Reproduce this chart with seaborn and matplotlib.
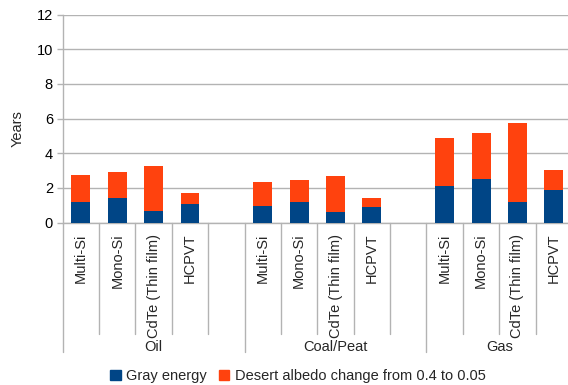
import matplotlib
matplotlib.use("Agg")
import matplotlib.pyplot as plt
from matplotlib.patches import Patch
import seaborn as sns
import pandas as pd

groups = ["Oil", "Coal/Peat", "Gas"]
technologies = ["Multi-Si", "Mono-Si", "CdTe (Thin film)", "HCPVT"]
gray_energy = [1.21, 1.42, 0.67, 1.04,
               0.96, 1.21, 0.58, 0.87,
               2.13, 2.52, 1.21, 1.90]
albedo_change = [1.56, 1.50, 2.62, 0.69,
                 1.35, 1.25, 2.13, 0.55,
                 2.77, 2.62, 4.54, 1.14]
y_ticks = [0, 2, 4, 6, 8, 10, 12]
series_names = ["Gray energy", "Desert albedo change from 0.4 to 0.05"]

BLUE = "#004586"
ORANGE = "#ff420e"
GRID = "#b3b3b3"
FS = 10.5

rows = []
for gi, g in enumerate(groups):
    for ti, t in enumerate(technologies):
        k = gi * len(technologies) + ti
        rows.append({"slot": f"{g}|{t}", "tech": t, "group": g,
                     "gray": gray_energy[k],
                     "total": gray_energy[k] + albedo_change[k]})
df = pd.DataFrame(rows)

order = []
for gi, g in enumerate(groups):
    order += [f"{g}|{t}" for t in technologies]
    if gi < len(groups) - 1:
        order.append(f"gap{gi}")

sns.set_style("white")
plt.rcParams["font.family"] = ["Liberation Sans", "DejaVu Sans"]

fig = plt.figure(figsize=(5.68, 3.85), dpi=100)
W, H = 568, 385
x0, x1, ytop, ybot = 62.7, 572.0, 14.7, 222.5
ax = fig.add_axes([x0 / W, 1 - ybot / H, (x1 - x0) / W, (ybot - ytop) / H])

sns.barplot(data=df, x="slot", y="total", order=order, color=ORANGE,
            width=0.52, saturation=1, errorbar=None, ax=ax, zorder=3,
            linewidth=0)
sns.barplot(data=df, x="slot", y="gray", order=order, color=BLUE,
            width=0.52, saturation=1, errorbar=None, ax=ax, zorder=4,
            linewidth=0)

ax.set_ylim(0, 12)
ax.set_xlim(-0.5, len(order) - 0.5)
ax.set_yticks(y_ticks)
ax.set_yticklabels([str(v) for v in y_ticks], fontsize=FS, color="black")
ax.yaxis.grid(True, color=GRID, linewidth=1.0, zorder=0)
ax.set_axisbelow(True)
ax.tick_params(axis="y", length=4.5, width=1.0, color=GRID, pad=2.5, left=True)
for s in ["top", "right"]:
    ax.spines[s].set_visible(False)
ax.spines["left"].set_color(GRID)
ax.spines["bottom"].set_color(GRID)
ax.spines["left"].set_linewidth(1.0)
ax.spines["bottom"].set_linewidth(1.0)

labels = [s.split("|")[1] if "|" in s else "" for s in order]
ax.set_xticks(range(len(order)))
ax.set_xticklabels(labels, rotation=90, va="top", ha="center", fontsize=FS)
ax.tick_params(axis="x", length=0, pad=8)
ax.set_xlabel("")
ax.set_ylabel("")

ah = ybot - ytop
short_y = -(334 - ybot) / ah
long_y = -(351.7 - ybot) / ah
trans = ax.get_xaxis_transform()
boundaries = [-0.5]
pos = -0.5
for gi in range(len(groups)):
    pos += len(technologies) + (1 if gi < len(groups) - 1 else 0)
    boundaries.append(pos)
for i in range(len(order) + 1):
    xb = i - 0.5
    yend = long_y if xb in boundaries else short_y
    ax.plot([xb, xb], [0, yend], color=GRID, lw=1.0, transform=trans,
            clip_on=False, zorder=1)

for gi, g in enumerate(groups):
    xc = (boundaries[gi] + boundaries[gi + 1]) / 2
    ax.text(xc, -(347 - ybot) / ah, g, transform=trans, ha="center",
            va="center", fontsize=FS)

ax.text(-(x0 - 18) / (x1 - x0), (ybot - 129) / ah, "Years",
        transform=ax.transAxes, rotation=90, ha="center", va="center",
        fontsize=FS)

handles = [Patch(facecolor=BLUE, edgecolor=BLUE),
           Patch(facecolor=ORANGE, edgecolor=ORANGE)]
fig.legend(handles, series_names, loc="center", ncol=2,
           bbox_to_anchor=(298 / W, 1 - 376 / H), frameon=False, fontsize=FS,
           handlelength=0.7, handleheight=0.7, handletextpad=0.4,
           columnspacing=0.8)

fig.savefig("out.png", dpi=100)
